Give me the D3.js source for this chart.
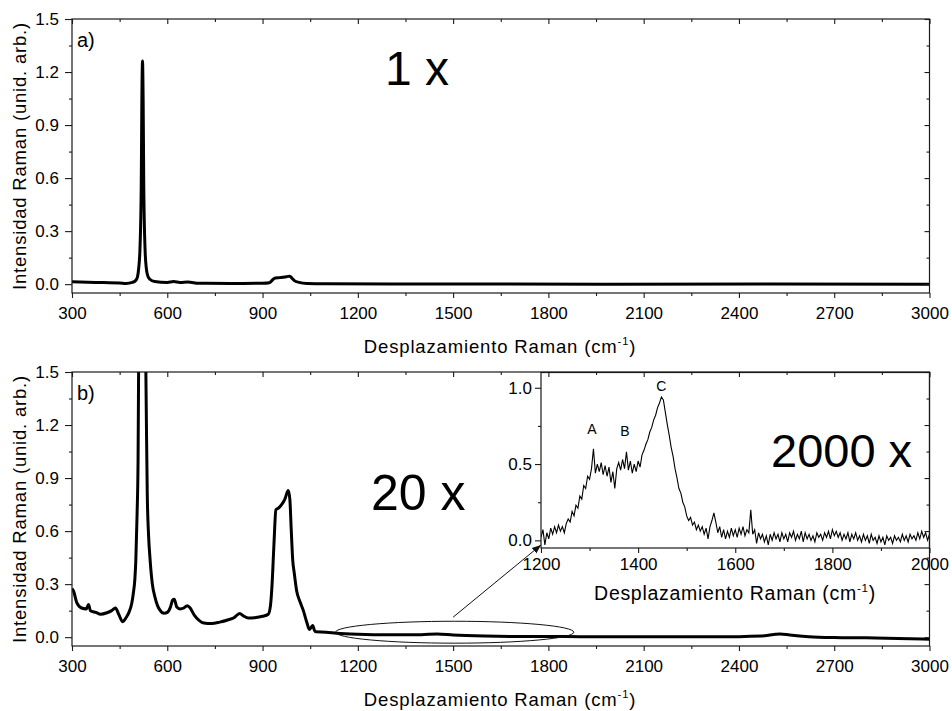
<!DOCTYPE html>
<html><head><meta charset="utf-8">
<script src="https://cdn.jsdelivr.net/npm/d3@7"></script>
<style>
body{margin:0;background:#fff;}
svg{display:block;font-family:"Liberation Sans",Arial,sans-serif;}
svg text{font-family:"Liberation Sans",Arial,sans-serif;}
</style></head><body>
<svg id="chart" width="952" height="711"></svg>
<script>
// ---- Spectrum (a), 1x ----
const shiftA = [300,350,400,450,470,490,500,506,510,514,518,520,522,524,526,530,534,538,545,560,600,620,640,665,700,800,900,922,932,940,955,970,980,986,992,1000,1015,1040,1100,1500,2000,2500,3000];
const intensityA = [0.013,0.011,0.009,0.007,0.004,0.01,0.02,0.04,0.09,0.2,0.55,1.05,1.262,1.05,0.55,0.2,0.09,0.05,0.028,0.015,0.01,0.015,0.01,0.012,0.005,0.004,0.005,0.008,0.025,0.035,0.037,0.04,0.044,0.045,0.035,0.02,0.01,0.004,0.002,0.001,0.0,0.001,0.0];

// ---- Spectrum (b), 20x ----
const shiftB = [300,305,315,330,345,352,358,375,390,410,425,437,447,460,470,480,488,493,498,501,505,508,510,515,521,527,532,535,537,541,546,553,561,569,577,590,600,610,617,622,630,640,652,663,672,685,700,715,740,765,790,810,828,840,855,875,900,918,925,930,936,942,950,960,970,981,986,990,995,1000,1007,1018,1028,1040,1047,1053,1058,1063,1068,1100,1133,1200,1300,1400,1450,1500,1600,1700,1800,1900,2000,2200,2400,2470,2510,2530,2560,2620,2700,2800,2900,3000];
const intensityB = [0.275,0.26,0.195,0.165,0.16,0.185,0.15,0.14,0.13,0.138,0.15,0.165,0.13,0.087,0.11,0.143,0.19,0.247,0.33,0.436,0.7,1.0,1.6,2.8,3.4,2.8,1.6,1.1,0.81,0.58,0.436,0.3,0.228,0.18,0.153,0.135,0.14,0.17,0.21,0.215,0.17,0.16,0.165,0.178,0.165,0.125,0.095,0.08,0.077,0.085,0.097,0.11,0.134,0.12,0.108,0.11,0.118,0.13,0.18,0.3,0.53,0.72,0.73,0.75,0.78,0.83,0.78,0.62,0.436,0.36,0.266,0.2,0.153,0.08,0.044,0.055,0.066,0.04,0.03,0.028,0.022,0.016,0.013,0.014,0.018,0.012,0.006,0.004,0.004,0.003,0.002,0.002,0.003,0.006,0.015,0.018,0.012,0.003,-0.002,-0.004,-0.007,-0.012];

// ---- Detail 1200-2000 cm-1, 2000x (sampled every 4 cm-1) ----
const insetStart = 1200, insetStep = 4;
const insetIntensity = [
 0.02,0.07,-0.03,0.05,0.01,0.08,0.04,0.09,0.05,0.10,
 0.06,0.09,0.05,0.11,0.14,0.12,0.19,0.16,0.23,0.21,
 0.29,0.27,0.36,0.34,0.42,0.40,0.47,0.60,0.44,0.50,
 0.45,0.51,0.43,0.49,0.42,0.48,0.38,0.45,0.34,0.47,
 0.51,0.46,0.53,0.47,0.58,0.46,0.52,0.44,0.50,0.45,
 0.52,0.48,0.56,0.59,0.63,0.66,0.71,0.74,0.79,0.82,
 0.87,0.90,0.94,0.92,0.84,0.76,0.69,0.61,0.55,0.47,
 0.41,0.34,0.31,0.25,0.22,0.16,0.13,0.15,0.10,0.12,
 0.07,0.10,0.06,0.09,0.04,0.08,0.01,0.09,0.13,0.18,
 0.12,0.05,0.09,0.02,0.07,0.01,0.06,0.02,0.08,0.03,
 0.07,0.02,0.08,0.04,0.09,0.03,0.07,0.05,0.20,0.04,
 0.07,-0.02,0.05,0.01,0.04,-0.01,0.03,-0.03,0.04,0.00,
 0.05,0.01,0.04,-0.01,0.05,0.01,0.04,-0.01,0.05,0.02,
 0.06,0.00,0.04,0.01,0.06,-0.01,0.05,0.01,0.04,0.00,
 0.03,-0.01,0.05,0.02,0.04,0.00,0.05,0.02,0.06,0.01,
 0.07,0.03,0.06,0.02,0.05,0.00,0.04,0.01,0.05,-0.01,
 0.04,0.01,0.05,0.00,0.03,-0.01,0.04,0.00,0.03,-0.02,
 0.04,0.00,0.02,-0.02,0.03,-0.01,0.02,-0.03,0.03,0.00,
 0.02,-0.02,0.03,0.00,0.02,-0.01,0.04,0.00,0.03,-0.01,
 0.04,0.01,0.03,0.00,0.05,0.01,0.06,0.02,0.05,0.00,
 0.04
];

// ---- Axis ticks ----
const mainXTicks = [300,600,900,1200,1500,1800,2100,2400,2700,3000];
const mainXMinor = [450,750,1050,1350,1650,1950,2250,2550,2850];
const mainYTicks = [0,0.3,0.6,0.9,1.2,1.5];
const mainYMinor = [0.15,0.45,0.75,1.05,1.35];
const insetXTicks = [1200,1400,1600,1800,2000];
const insetXMinor = [1300,1500,1700,1900];
const insetYTicks = [0,0.5,1.0];
const insetYMinor = [0.25,0.75];

// Band labels in the detail plot
const bandNames = ["A","B","C"];
const bandShift = [1305,1373,1448];
const bandLevel = [0.70,0.685,0.98];

const xTitle = "Desplazamiento Raman (cm";
const yTitle = "Intensidad Raman (unid. arb.)";
const FONT = "'Liberation Sans', Arial, sans-serif";

const svg = d3.select("#chart");
const fmt1 = d3.format(".1f");

// Layout
const L = 72, R = 929.5;
const panels = [
  {top:19, bottom:293, shift:shiftA, val:intensityA, tag:"a)", gain:"1 x", gainX:385, gainY:85, gainSize:48},
  {top:372, bottom:646, shift:shiftB, val:intensityB, tag:"b)", gain:"20 x", gainX:371, gainY:510, gainSize:50}
];
const inset = {left:541, right:929.5, top:372.5, bottom:548};

function axisSet(g, x, y, xMaj, xMin, yMaj, yMin, xFmt, yFmt, sizes, mirror) {
  const [y0, y1] = y.range();
  const [x0, x1] = x.range();
  const bottom = g.append("g").attr("transform", `translate(0,${y0})`);
  bottom.call(d3.axisBottom(x).tickValues(xMaj).tickSize(sizes.maj).tickPadding(sizes.padX).tickFormat(xFmt));
  bottom.append("g").call(d3.axisBottom(x).tickValues(xMin).tickSize(sizes.min).tickFormat(""));
  const left = g.append("g").attr("transform", `translate(${x0},0)`);
  left.call(d3.axisLeft(y).tickValues(yMaj).tickSize(sizes.majY).tickPadding(sizes.padY).tickFormat(yFmt));
  left.append("g").call(d3.axisLeft(y).tickValues(yMin).tickSize(sizes.min).tickFormat(""));
  if (mirror) {
    const top = g.append("g").attr("transform", `translate(0,${y1})`);
    top.call(d3.axisTop(x).tickValues(xMaj).tickSize(-sizes.maj).tickFormat(""));
    top.append("g").call(d3.axisTop(x).tickValues(xMin).tickSize(-sizes.min).tickFormat(""));
    const right = g.append("g").attr("transform", `translate(${x1},0)`);
    right.call(d3.axisRight(y).tickValues(yMaj).tickSize(-sizes.maj).tickFormat(""));
    right.append("g").call(d3.axisRight(y).tickValues(yMin).tickSize(-sizes.min).tickFormat(""));
  }
  g.selectAll(".domain").remove();
  g.selectAll("g").attr("font-family", FONT);
  g.selectAll(".tick line").attr("stroke", "#1a1a1a").attr("stroke-width", 1.1);
  g.selectAll(".tick text").attr("fill", "#000").attr("font-family", FONT)
    .attr("font-size", sizes.font);
  g.append("rect").attr("x", x0).attr("y", y1).attr("width", x1 - x0).attr("height", y0 - y1)
    .attr("fill", "none").attr("stroke", "#1a1a1a").attr("stroke-width", 1.2);
}

function xTitleText(g, cx, by, size, spacing) {
  const t = g.append("text").attr("x", cx).attr("y", by).attr("text-anchor", "middle")
    .attr("font-size", size).attr("letter-spacing", spacing).attr("fill", "#000");
  t.append("tspan").text(xTitle);
  t.append("tspan").attr("font-size", size * 0.6).attr("dy", -size * 0.42).text("-1");
  t.append("tspan").attr("dy", size * 0.42).text(")");
}

const mainSizes = {maj:5, majY:7, min:3, padX:9, padY:6, font:17};

panels.forEach((p, i) => {
  const x = d3.scaleLinear().domain([300, 3000]).range([L, R]);
  const y = d3.scaleLinear().domain([-0.05, 1.5]).range([p.bottom, p.top]);
  const g = svg.append("g");
  const clipId = "clip" + i;
  svg.append("clipPath").attr("id", clipId).append("rect")
    .attr("x", L).attr("y", p.top).attr("width", R - L).attr("height", p.bottom - p.top);
  const line = d3.line().x((d, k) => x(p.shift[k])).y(d => y(d)).curve(d3.curveMonotoneX);
  g.append("path").attr("clip-path", `url(#${clipId})`).attr("d", line(p.val))
    .attr("fill", "none").attr("stroke", "#000").attr("stroke-width", 3).attr("stroke-linejoin", "round");

  g.append("text").attr("x", 77).attr("y", p.top + 28).attr("font-size", 20).attr("fill", "#000").text(p.tag);
  g.append("text").attr("x", p.gainX).attr("y", p.gainY).attr("font-size", p.gainSize).attr("fill", "#000").text(p.gain);

  xTitleText(svg, 500, p.bottom + 60, 18.5, 0.85);
  svg.append("text").attr("transform", `translate(26,${(p.top + p.bottom) / 2}) rotate(-90)`)
    .attr("text-anchor", "middle").attr("font-size", 18.5).attr("letter-spacing", 0.8).attr("fill", "#000").text(yTitle);

  p.x = x; p.y = y; p.g = g;
});

// Panel (a) axes
axisSet(svg.append("g"), panels[0].x, panels[0].y, mainXTicks, mainXMinor, mainYTicks, mainYMinor, d3.format("d"), fmt1, mainSizes, true);

// Panel (b): zoom region marker and pointer
const pb = panels[1];
const ex0 = pb.x(1130), ex1 = pb.x(1880), eyT = pb.y(0.09), eyB = pb.y(-0.034);
svg.append("ellipse").attr("cx", (ex0 + ex1) / 2).attr("cy", (eyT + eyB) / 2)
  .attr("rx", (ex1 - ex0) / 2).attr("ry", (eyB - eyT) / 2)
  .attr("fill", "none").attr("stroke", "#111").attr("stroke-width", 1);

// Detail plot
const xi = d3.scaleLinear().domain([1200, 2000]).range([inset.left, inset.right]);
const yi = d3.scaleLinear().domain([-0.05, 1.1]).range([inset.bottom, inset.top]);

svg.append("defs").append("marker").attr("id", "arrowHead").attr("viewBox", "0 0 10 10")
  .attr("refX", 10).attr("refY", 5).attr("markerWidth", 9).attr("markerHeight", 9)
  .attr("markerUnits", "userSpaceOnUse").attr("orient", "auto")
  .append("path").attr("d", "M0,1 L10,5 L0,9 Z").attr("fill", "#111");
svg.append("line").attr("x1", pb.x(1500)).attr("y1", pb.y(0.113))
  .attr("x2", xi(1200)).attr("y2", yi(-0.03))
  .attr("stroke", "#111").attr("stroke-width", 1).attr("marker-end", "url(#arrowHead)");

const gi = svg.append("g");
gi.append("rect").attr("x", inset.left).attr("y", inset.top)
  .attr("width", inset.right - inset.left).attr("height", inset.bottom - inset.top).attr("fill", "#fff");
svg.append("clipPath").attr("id", "clipInset").append("rect")
  .attr("x", inset.left).attr("y", inset.top).attr("width", inset.right - inset.left).attr("height", inset.bottom - inset.top);
const lineI = d3.line().x((d, k) => xi(insetStart + k * insetStep)).y(d => yi(d));
gi.append("path").attr("clip-path", "url(#clipInset)").attr("d", lineI(insetIntensity))
  .attr("fill", "none").attr("stroke", "#000").attr("stroke-width", 1.1);
bandNames.forEach((n, k) => {
  gi.append("text").attr("x", xi(bandShift[k])).attr("y", yi(bandLevel[k])).attr("text-anchor", "middle")
    .attr("font-size", 14).attr("fill", "#000").text(n);
});
gi.append("text").attr("x", 771).attr("y", 467).attr("font-size", 47).attr("fill", "#000").text("2000 x");
axisSet(gi.append("g"), xi, yi, insetXTicks, insetXMinor, insetYTicks, insetYMinor, d3.format("d"), fmt1,
  {maj:5, majY:6, min:3, padX:5, padY:3, font:17}, false);
xTitleText(gi, 735, 600, 19.5, 0.7);

// Panel (b) axes drawn last so its frame and mirrored ticks sit on top
const gb = svg.append("g");
axisSet(gb, pb.x, pb.y, mainXTicks, mainXMinor, mainYTicks, mainYMinor, d3.format("d"), fmt1, mainSizes, true);
</script>
</body></html>
